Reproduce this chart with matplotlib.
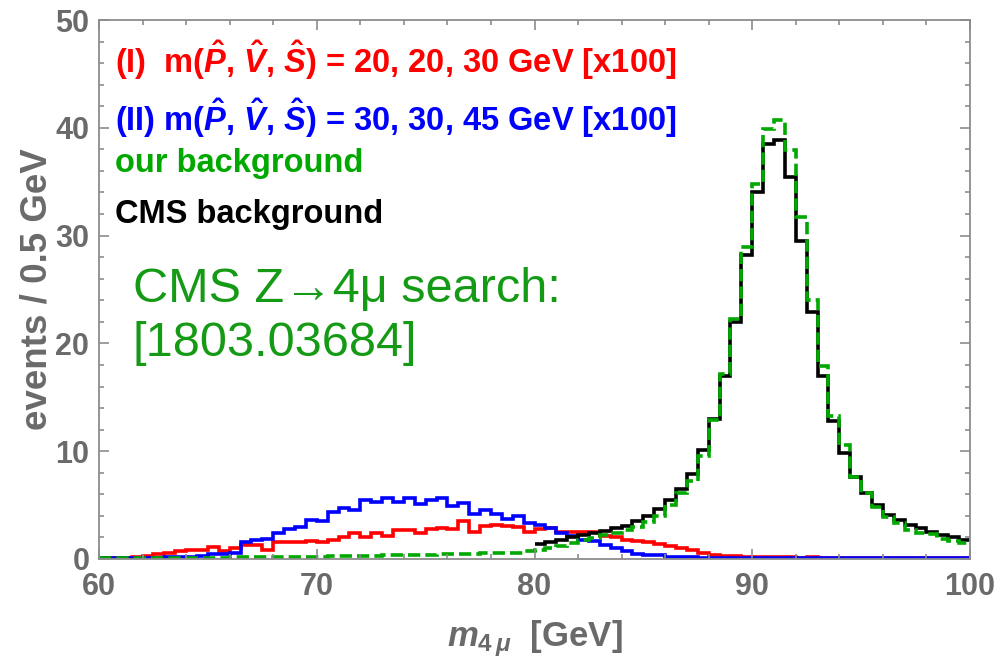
import matplotlib
matplotlib.use("Agg")
import matplotlib.pyplot as plt
import numpy as np
from matplotlib.ticker import MultipleLocator

# histogram binning (GeV)
BIN_START = 60.0
BIN_WIDTH = 0.5
CMS_START = 80.0

# (I) m(P, V, S) = 20, 20, 30 GeV  [x100]
signal_1 = [
    0.1, 0.1, 0.1, 0.15, 0.3, 0.45, 0.6, 0.75, 0.8, 0.8,
    1.1, 0.75, 1.0, 1.3, 1.3, 0.85, 1.6, 1.6, 1.6, 1.7,
    1.6, 1.75, 2.05, 2.4, 2.05, 2.4, 2.15, 2.65, 2.65, 2.45,
    2.75, 2.85, 2.75, 3.5, 2.55, 3.05, 3.15, 3.05, 3.0, 2.5,
    2.8, 2.85, 2.5, 2.5, 2.55, 2.55, 2.1, 2.0, 1.8, 1.7,
    1.6, 1.4, 1.2, 1.0, 0.85, 0.6, 0.4, 0.3, 0.3, 0.2,
    0.2, 0.15, 0.2, 0.15, 0.1, 0.15, 0.1, 0.1, 0.1, 0.1,
    0.1, 0.08, 0.1, 0.08, 0.05, 0.08, 0.05, 0.05, 0.05, 0.05,
]

# (II) m(P, V, S) = 30, 30, 45 GeV  [x100]
signal_2 = [
    0.05, 0.05, 0.05, 0.05, 0.1, 0.1, 0.15, 0.15, 0.2, 0.25,
    0.5, 0.5, 0.55, 1.6, 1.8, 1.85, 2.4, 2.75, 3.0, 3.6,
    3.5, 4.4, 4.7, 4.5, 5.5, 5.3, 5.7, 5.3, 5.7, 5.1,
    5.5, 5.7, 4.9, 5.2, 4.2, 4.5, 4.2, 3.7, 4.0, 3.3,
    3.15, 2.85, 2.45, 2.1, 1.8, 1.7, 1.3, 1.0, 0.7, 0.45,
    0.4, 0.35, 0.22, 0.2, 0.15, 0.12, 0.1, 0.1, 0.1, 0.08,
    0.08, 0.08, 0.05, 0.08, 0.05, 0.05, 0.05, 0.05, 0.05, 0.05,
    0.05, 0.05, 0.05, 0.05, 0.05, 0.05, 0.05, 0.05, 0.05, 0.05,
]

our_bkg = [
    0.05, 0.05, 0.05, 0.05, 0.05, 0.05, 0.08, 0.08, 0.1, 0.1,
    0.12, 0.12, 0.15, 0.15, 0.15, 0.18, 0.2, 0.2, 0.2, 0.22,
    0.22, 0.25, 0.25, 0.28, 0.3, 0.3, 0.35, 0.35, 0.35, 0.4,
    0.4, 0.45, 0.45, 0.5, 0.5, 0.55, 0.55, 0.6, 0.6, 0.75,
    0.8, 1.0, 1.25, 1.5, 1.75, 1.95, 2.2, 2.4, 2.7, 3.0,
    3.4, 4.0, 5.0, 6.1, 7.2, 9.6, 12.9, 17.2, 22.3, 28.9,
    34.8, 39.9, 40.7, 37.9, 31.7, 24.0, 17.9, 13.3, 10.6, 7.6,
    6.1, 4.8, 3.9, 3.3, 2.7, 2.4, 2.3, 1.9, 1.7, 1.5,
]

cms_bkg = [
    1.35, 1.55, 1.8, 2.0, 2.2, 2.4, 2.6, 2.85, 3.1, 3.5,
    3.95, 4.6, 5.5, 6.5, 7.9, 10.1, 13.0, 17.0, 22.0, 28.2,
    34.0, 38.5, 38.9, 35.4, 29.5, 22.9, 17.0, 12.8, 9.8, 7.6,
    6.1, 5.0, 4.1, 3.6, 3.15, 2.85, 2.55, 2.2, 2.0, 1.8,
]

x_ticks = [60, 70, 80, 90, 100]
y_ticks = [0, 10, 20, 30, 40, 50]

GRAY = "#6a6a6a"
FRAME = "#8c8c8c"
GREEN = "#00a800"
SANS = ["Liberation Sans", "DejaVu Sans"]

plt.rcParams["mathtext.fontset"] = "custom"
plt.rcParams["mathtext.rm"] = "Liberation Sans:bold"
plt.rcParams["mathtext.it"] = "Liberation Sans:italic:bold"
plt.rcParams["mathtext.bf"] = "Liberation Sans:bold"

fig = plt.figure(figsize=(9.99, 6.58), dpi=100)
ax = fig.add_axes([99 / 999, 1 - 559 / 658, 871 / 999, 539 / 658])

edges = BIN_START + BIN_WIDTH * np.arange(len(signal_1) + 1)
edges_cms = CMS_START + BIN_WIDTH * np.arange(len(cms_bkg) + 1)

lw = 2.6
ax.stairs(signal_1, edges, baseline=None, color="#ff0000", lw=lw)
ax.stairs(signal_2, edges, baseline=None, color="#0000ff", lw=lw)
ax.stairs(cms_bkg, edges_cms, baseline=None, color="black", lw=lw)
ax.stairs(our_bkg, edges, baseline=None, color=GREEN, lw=lw,
          linestyle=(0, (3.4, 1.4)))

ax.set_xlim(60, 100)
ax.set_ylim(0, 50)
ax.set_xticks(x_ticks)
ax.set_yticks(y_ticks)
ax.xaxis.set_minor_locator(MultipleLocator(2))
ax.yaxis.set_minor_locator(MultipleLocator(2))
ax.tick_params(which="both", direction="in", color=FRAME, width=1.2,
               top=True, right=True)
ax.tick_params(which="major", length=7)
ax.tick_params(which="minor", length=3.5)
ax.tick_params(axis="x", which="major", pad=9.5)
ax.tick_params(axis="y", which="major", pad=7)
for spine in ax.spines.values():
    spine.set_color(FRAME)
    spine.set_linewidth(1.3)

for lab in ax.get_xticklabels() + ax.get_yticklabels():
    lab.set_family(SANS)
    lab.set_fontweight("bold")
    lab.set_fontsize(22)
    lab.set_color(GRAY)

ax.set_xlabel(r"$m_{4\,\mu}$  [GeV]", family=SANS, fontweight="bold",
              fontsize=25, color=GRAY)
ax.xaxis.set_label_coords(0.5, -0.11)
ax.set_ylabel("events / 0.5 GeV", family=SANS, fontweight="bold",
              fontsize=26.5, color=GRAY)
ax.yaxis.set_label_coords(-0.051, 0.5)

legend_rows = [
    (r"(I)  m($\hat{P}$, $\hat{V}$, $\hat{S}$) = 20, 20, 30 GeV [x100]", "#ff0000", 0.925),
    (r"(II) m($\hat{P}$, $\hat{V}$, $\hat{S}$) = 30, 30, 45 GeV [x100]", "#0000ff", 0.818),
    ("our background", GREEN, 0.733),
    ("CMS background", "black", 0.64),
]
for txt, col, yy in legend_rows:
    ax.text(0.018, yy, txt, transform=ax.transAxes, ha="left", va="center",
            family=SANS, fontweight="bold", fontsize=23.5, color=col)

ax.text(0.039, 0.45, "CMS Z\u21924\u03bc search:\n[1803.03684]",
        transform=ax.transAxes, ha="left", va="center",
        family=SANS, fontsize=35, color="#159a15", linespacing=1.28)

fig.savefig("out.png", dpi=100)
